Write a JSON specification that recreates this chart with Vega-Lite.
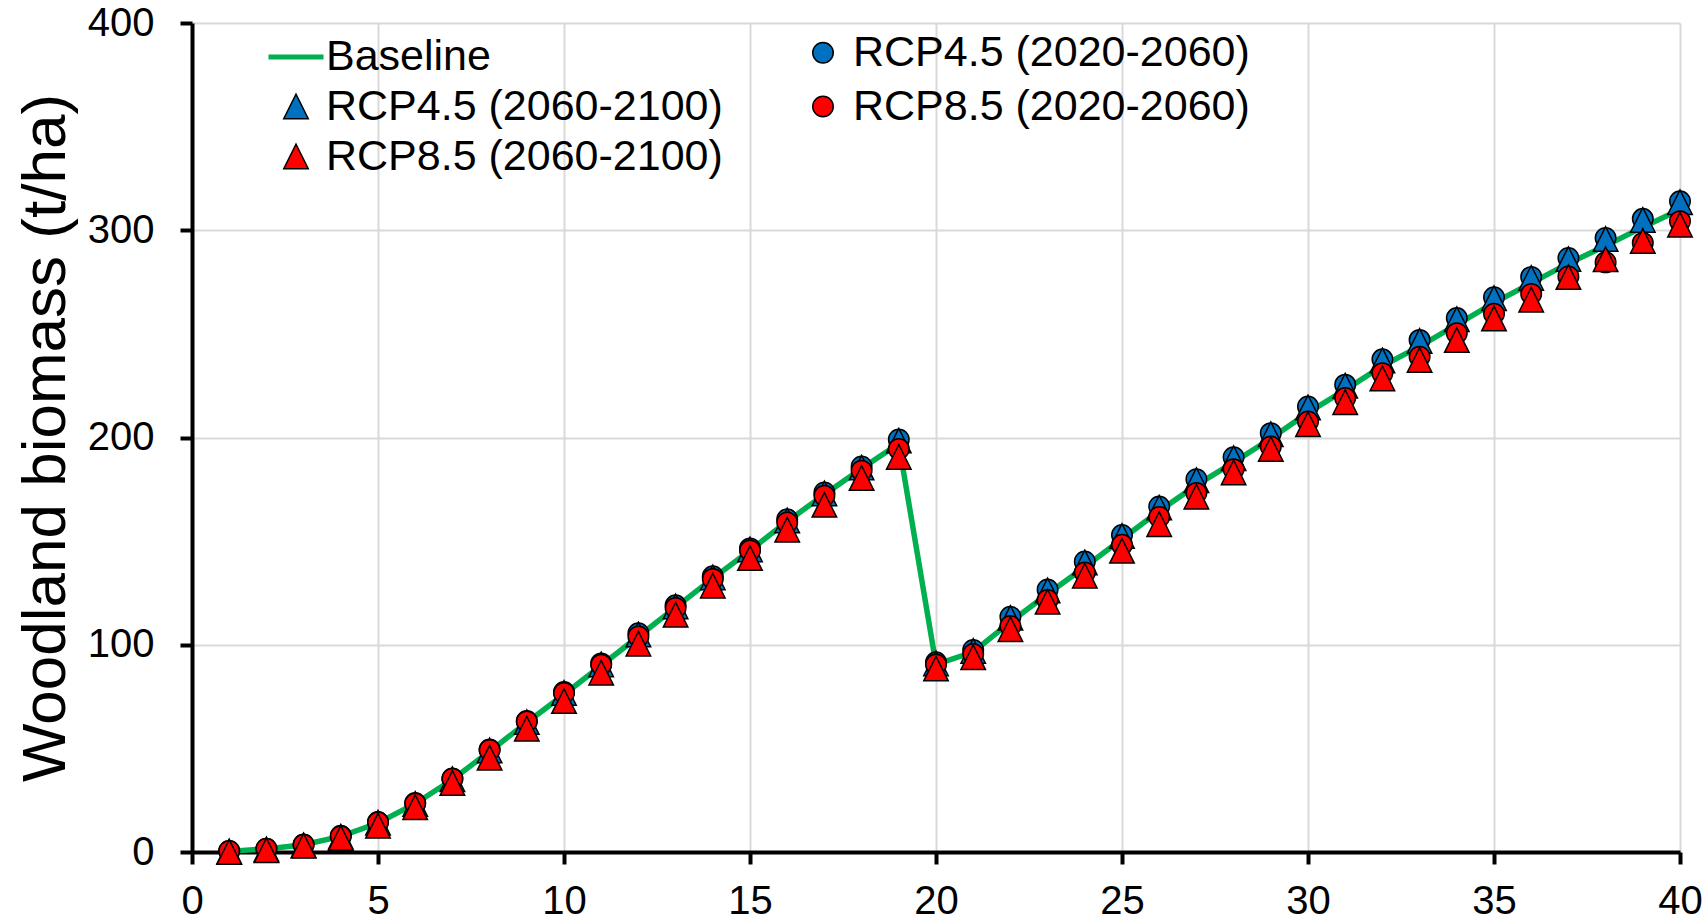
{
  "$schema": "https://vega.github.io/schema/vega-lite/v6.json",
  "width": 1488,
  "height": 829,
  "autosize": {"type": "none"},
  "padding": {"left": 192, "top": 23, "right": 25, "bottom": 71},
  "config": {
    "font": "Liberation Sans",
    "view": {"stroke": null},
    "axis": {
      "grid": true,
      "gridColor": "#D9D9D9",
      "gridWidth": 2,
      "domainColor": "black",
      "domainWidth": 4,
      "tickColor": "black",
      "tickWidth": 4,
      "tickSize": 12,
      "labelFontSize": 40,
      "labelColor": "black",
      "labelFlush": false,
      "labelOverlap": false
    }
  },
  "data": {
    "values": [
      {"series": "Baseline", "year": 1, "biomass": 0.3}, {"series": "Baseline", "year": 2, "biomass": 1.5}, {"series": "Baseline", "year": 3, "biomass": 3.5}, {"series": "Baseline", "year": 4, "biomass": 7.5}, {"series": "Baseline", "year": 5, "biomass": 14}, {"series": "Baseline", "year": 6, "biomass": 23.3}, {"series": "Baseline", "year": 7, "biomass": 35}, {"series": "Baseline", "year": 8, "biomass": 48.5}, {"series": "Baseline", "year": 9, "biomass": 62.5}, {"series": "Baseline", "year": 10, "biomass": 76},
      {"series": "Baseline", "year": 11, "biomass": 90}, {"series": "Baseline", "year": 12, "biomass": 104}, {"series": "Baseline", "year": 13, "biomass": 118}, {"series": "Baseline", "year": 14, "biomass": 132}, {"series": "Baseline", "year": 15, "biomass": 145.5}, {"series": "Baseline", "year": 16, "biomass": 159.5}, {"series": "Baseline", "year": 17, "biomass": 172.5}, {"series": "Baseline", "year": 18, "biomass": 185}, {"series": "Baseline", "year": 19, "biomass": 197}, {"series": "Baseline", "year": 20, "biomass": 90.5},
      {"series": "Baseline", "year": 21, "biomass": 96.5}, {"series": "Baseline", "year": 22, "biomass": 111}, {"series": "Baseline", "year": 23, "biomass": 124.5}, {"series": "Baseline", "year": 24, "biomass": 137.5}, {"series": "Baseline", "year": 25, "biomass": 151}, {"series": "Baseline", "year": 26, "biomass": 164.5}, {"series": "Baseline", "year": 27, "biomass": 177}, {"series": "Baseline", "year": 28, "biomass": 188}, {"series": "Baseline", "year": 29, "biomass": 199.5}, {"series": "Baseline", "year": 30, "biomass": 212},
      {"series": "Baseline", "year": 31, "biomass": 223}, {"series": "Baseline", "year": 32, "biomass": 234.5}, {"series": "Baseline", "year": 33, "biomass": 244}, {"series": "Baseline", "year": 34, "biomass": 254.5}, {"series": "Baseline", "year": 35, "biomass": 265}, {"series": "Baseline", "year": 36, "biomass": 274.5}, {"series": "Baseline", "year": 37, "biomass": 284}, {"series": "Baseline", "year": 38, "biomass": 292.5}, {"series": "Baseline", "year": 39, "biomass": 301.5}, {"series": "Baseline", "year": 40, "biomass": 310},

      {"series": "RCP4.5 (2020-2060)", "year": 1, "biomass": 0.5}, {"series": "RCP4.5 (2020-2060)", "year": 2, "biomass": 1.6}, {"series": "RCP4.5 (2020-2060)", "year": 3, "biomass": 3.6}, {"series": "RCP4.5 (2020-2060)", "year": 4, "biomass": 7.8}, {"series": "RCP4.5 (2020-2060)", "year": 5, "biomass": 14.5}, {"series": "RCP4.5 (2020-2060)", "year": 6, "biomass": 23.6}, {"series": "RCP4.5 (2020-2060)", "year": 7, "biomass": 35.5}, {"series": "RCP4.5 (2020-2060)", "year": 8, "biomass": 49.5}, {"series": "RCP4.5 (2020-2060)", "year": 9, "biomass": 63.2}, {"series": "RCP4.5 (2020-2060)", "year": 10, "biomass": 77.2},
      {"series": "RCP4.5 (2020-2060)", "year": 11, "biomass": 91}, {"series": "RCP4.5 (2020-2060)", "year": 12, "biomass": 105.5}, {"series": "RCP4.5 (2020-2060)", "year": 13, "biomass": 119}, {"series": "RCP4.5 (2020-2060)", "year": 14, "biomass": 133}, {"series": "RCP4.5 (2020-2060)", "year": 15, "biomass": 146.5}, {"series": "RCP4.5 (2020-2060)", "year": 16, "biomass": 160.5}, {"series": "RCP4.5 (2020-2060)", "year": 17, "biomass": 173.5}, {"series": "RCP4.5 (2020-2060)", "year": 18, "biomass": 186}, {"series": "RCP4.5 (2020-2060)", "year": 19, "biomass": 199}, {"series": "RCP4.5 (2020-2060)", "year": 20, "biomass": 91.5},
      {"series": "RCP4.5 (2020-2060)", "year": 21, "biomass": 97.5}, {"series": "RCP4.5 (2020-2060)", "year": 22, "biomass": 113.5}, {"series": "RCP4.5 (2020-2060)", "year": 23, "biomass": 126.7}, {"series": "RCP4.5 (2020-2060)", "year": 24, "biomass": 140.2}, {"series": "RCP4.5 (2020-2060)", "year": 25, "biomass": 153}, {"series": "RCP4.5 (2020-2060)", "year": 26, "biomass": 166.7}, {"series": "RCP4.5 (2020-2060)", "year": 27, "biomass": 179.9}, {"series": "RCP4.5 (2020-2060)", "year": 28, "biomass": 190.5}, {"series": "RCP4.5 (2020-2060)", "year": 29, "biomass": 202.1}, {"series": "RCP4.5 (2020-2060)", "year": 30, "biomass": 215},
      {"series": "RCP4.5 (2020-2060)", "year": 31, "biomass": 225.5}, {"series": "RCP4.5 (2020-2060)", "year": 32, "biomass": 237.7}, {"series": "RCP4.5 (2020-2060)", "year": 33, "biomass": 247.1}, {"series": "RCP4.5 (2020-2060)", "year": 34, "biomass": 257.6}, {"series": "RCP4.5 (2020-2060)", "year": 35, "biomass": 267.7}, {"series": "RCP4.5 (2020-2060)", "year": 36, "biomass": 277.5}, {"series": "RCP4.5 (2020-2060)", "year": 37, "biomass": 286.6}, {"series": "RCP4.5 (2020-2060)", "year": 38, "biomass": 296.3}, {"series": "RCP4.5 (2020-2060)", "year": 39, "biomass": 305.5}, {"series": "RCP4.5 (2020-2060)", "year": 40, "biomass": 314},

      {"series": "RCP4.5 (2060-2100)", "year": 1, "biomass": 0.3}, {"series": "RCP4.5 (2060-2100)", "year": 2, "biomass": 1.3}, {"series": "RCP4.5 (2060-2100)", "year": 3, "biomass": 3.2}, {"series": "RCP4.5 (2060-2100)", "year": 4, "biomass": 7.4}, {"series": "RCP4.5 (2060-2100)", "year": 5, "biomass": 14.1}, {"series": "RCP4.5 (2060-2100)", "year": 6, "biomass": 23.2}, {"series": "RCP4.5 (2060-2100)", "year": 7, "biomass": 35.1}, {"series": "RCP4.5 (2060-2100)", "year": 8, "biomass": 49}, {"series": "RCP4.5 (2060-2100)", "year": 9, "biomass": 62.7}, {"series": "RCP4.5 (2060-2100)", "year": 10, "biomass": 76.7},
      {"series": "RCP4.5 (2060-2100)", "year": 11, "biomass": 90.5}, {"series": "RCP4.5 (2060-2100)", "year": 12, "biomass": 105}, {"series": "RCP4.5 (2060-2100)", "year": 13, "biomass": 118.5}, {"series": "RCP4.5 (2060-2100)", "year": 14, "biomass": 132.5}, {"series": "RCP4.5 (2060-2100)", "year": 15, "biomass": 146}, {"series": "RCP4.5 (2060-2100)", "year": 16, "biomass": 160}, {"series": "RCP4.5 (2060-2100)", "year": 17, "biomass": 173}, {"series": "RCP4.5 (2060-2100)", "year": 18, "biomass": 185.5}, {"series": "RCP4.5 (2060-2100)", "year": 19, "biomass": 198.5}, {"series": "RCP4.5 (2060-2100)", "year": 20, "biomass": 91},
      {"series": "RCP4.5 (2060-2100)", "year": 21, "biomass": 97}, {"series": "RCP4.5 (2060-2100)", "year": 22, "biomass": 113}, {"series": "RCP4.5 (2060-2100)", "year": 23, "biomass": 126.2}, {"series": "RCP4.5 (2060-2100)", "year": 24, "biomass": 139.7}, {"series": "RCP4.5 (2060-2100)", "year": 25, "biomass": 152.5}, {"series": "RCP4.5 (2060-2100)", "year": 26, "biomass": 166.2}, {"series": "RCP4.5 (2060-2100)", "year": 27, "biomass": 179.4}, {"series": "RCP4.5 (2060-2100)", "year": 28, "biomass": 190}, {"series": "RCP4.5 (2060-2100)", "year": 29, "biomass": 201.6}, {"series": "RCP4.5 (2060-2100)", "year": 30, "biomass": 214.5},
      {"series": "RCP4.5 (2060-2100)", "year": 31, "biomass": 225}, {"series": "RCP4.5 (2060-2100)", "year": 32, "biomass": 237.2}, {"series": "RCP4.5 (2060-2100)", "year": 33, "biomass": 246.6}, {"series": "RCP4.5 (2060-2100)", "year": 34, "biomass": 257.1}, {"series": "RCP4.5 (2060-2100)", "year": 35, "biomass": 267.2}, {"series": "RCP4.5 (2060-2100)", "year": 36, "biomass": 277}, {"series": "RCP4.5 (2060-2100)", "year": 37, "biomass": 286.1}, {"series": "RCP4.5 (2060-2100)", "year": 38, "biomass": 295.8}, {"series": "RCP4.5 (2060-2100)", "year": 39, "biomass": 305}, {"series": "RCP4.5 (2060-2100)", "year": 40, "biomass": 313.5},

      {"series": "RCP8.5 (2020-2060)", "year": 1, "biomass": 0.5}, {"series": "RCP8.5 (2020-2060)", "year": 2, "biomass": 1.6}, {"series": "RCP8.5 (2020-2060)", "year": 3, "biomass": 3.5}, {"series": "RCP8.5 (2020-2060)", "year": 4, "biomass": 7.6}, {"series": "RCP8.5 (2020-2060)", "year": 5, "biomass": 14.3}, {"series": "RCP8.5 (2020-2060)", "year": 6, "biomass": 23.4}, {"series": "RCP8.5 (2020-2060)", "year": 7, "biomass": 35.3}, {"series": "RCP8.5 (2020-2060)", "year": 8, "biomass": 49.2}, {"series": "RCP8.5 (2020-2060)", "year": 9, "biomass": 63}, {"series": "RCP8.5 (2020-2060)", "year": 10, "biomass": 76.7},
      {"series": "RCP8.5 (2020-2060)", "year": 11, "biomass": 90.4}, {"series": "RCP8.5 (2020-2060)", "year": 12, "biomass": 104}, {"series": "RCP8.5 (2020-2060)", "year": 13, "biomass": 117.7}, {"series": "RCP8.5 (2020-2060)", "year": 14, "biomass": 131.7}, {"series": "RCP8.5 (2020-2060)", "year": 15, "biomass": 145.5}, {"series": "RCP8.5 (2020-2060)", "year": 16, "biomass": 159}, {"series": "RCP8.5 (2020-2060)", "year": 17, "biomass": 171.9}, {"series": "RCP8.5 (2020-2060)", "year": 18, "biomass": 184}, {"series": "RCP8.5 (2020-2060)", "year": 19, "biomass": 194.5}, {"series": "RCP8.5 (2020-2060)", "year": 20, "biomass": 90.5},
      {"series": "RCP8.5 (2020-2060)", "year": 21, "biomass": 95.5}, {"series": "RCP8.5 (2020-2060)", "year": 22, "biomass": 109}, {"series": "RCP8.5 (2020-2060)", "year": 23, "biomass": 121.6}, {"series": "RCP8.5 (2020-2060)", "year": 24, "biomass": 134.9}, {"series": "RCP8.5 (2020-2060)", "year": 25, "biomass": 148.2}, {"series": "RCP8.5 (2020-2060)", "year": 26, "biomass": 161.6}, {"series": "RCP8.5 (2020-2060)", "year": 27, "biomass": 173.2}, {"series": "RCP8.5 (2020-2060)", "year": 28, "biomass": 184.7}, {"series": "RCP8.5 (2020-2060)", "year": 29, "biomass": 195.7}, {"series": "RCP8.5 (2020-2060)", "year": 30, "biomass": 207.7},
      {"series": "RCP8.5 (2020-2060)", "year": 31, "biomass": 219}, {"series": "RCP8.5 (2020-2060)", "year": 32, "biomass": 231}, {"series": "RCP8.5 (2020-2060)", "year": 33, "biomass": 239}, {"series": "RCP8.5 (2020-2060)", "year": 34, "biomass": 250.3}, {"series": "RCP8.5 (2020-2060)", "year": 35, "biomass": 259.7}, {"series": "RCP8.5 (2020-2060)", "year": 36, "biomass": 269.3}, {"series": "RCP8.5 (2020-2060)", "year": 37, "biomass": 277.7}, {"series": "RCP8.5 (2020-2060)", "year": 38, "biomass": 284.5}, {"series": "RCP8.5 (2020-2060)", "year": 39, "biomass": 293.9}, {"series": "RCP8.5 (2020-2060)", "year": 40, "biomass": 304.4},

      {"series": "RCP8.5 (2060-2100)", "year": 1, "biomass": 0}, {"series": "RCP8.5 (2060-2100)", "year": 2, "biomass": 0.8}, {"series": "RCP8.5 (2060-2100)", "year": 3, "biomass": 3}, {"series": "RCP8.5 (2060-2100)", "year": 4, "biomass": 6.8}, {"series": "RCP8.5 (2060-2100)", "year": 5, "biomass": 12.7}, {"series": "RCP8.5 (2060-2100)", "year": 6, "biomass": 21.6}, {"series": "RCP8.5 (2060-2100)", "year": 7, "biomass": 33.3}, {"series": "RCP8.5 (2060-2100)", "year": 8, "biomass": 45.5}, {"series": "RCP8.5 (2060-2100)", "year": 9, "biomass": 59.5}, {"series": "RCP8.5 (2060-2100)", "year": 10, "biomass": 72.8},
      {"series": "RCP8.5 (2060-2100)", "year": 11, "biomass": 86.5}, {"series": "RCP8.5 (2060-2100)", "year": 12, "biomass": 100.5}, {"series": "RCP8.5 (2060-2100)", "year": 13, "biomass": 114.5}, {"series": "RCP8.5 (2060-2100)", "year": 14, "biomass": 128.5}, {"series": "RCP8.5 (2060-2100)", "year": 15, "biomass": 141.8}, {"series": "RCP8.5 (2060-2100)", "year": 16, "biomass": 155.5}, {"series": "RCP8.5 (2060-2100)", "year": 17, "biomass": 167.5}, {"series": "RCP8.5 (2060-2100)", "year": 18, "biomass": 180.5}, {"series": "RCP8.5 (2060-2100)", "year": 19, "biomass": 190.6}, {"series": "RCP8.5 (2060-2100)", "year": 20, "biomass": 88.5},
      {"series": "RCP8.5 (2060-2100)", "year": 21, "biomass": 94}, {"series": "RCP8.5 (2060-2100)", "year": 22, "biomass": 107.5}, {"series": "RCP8.5 (2060-2100)", "year": 23, "biomass": 120.8}, {"series": "RCP8.5 (2060-2100)", "year": 24, "biomass": 133.3}, {"series": "RCP8.5 (2060-2100)", "year": 25, "biomass": 145.3}, {"series": "RCP8.5 (2060-2100)", "year": 26, "biomass": 158.2}, {"series": "RCP8.5 (2060-2100)", "year": 27, "biomass": 171.4}, {"series": "RCP8.5 (2060-2100)", "year": 28, "biomass": 183.1}, {"series": "RCP8.5 (2060-2100)", "year": 29, "biomass": 194.5}, {"series": "RCP8.5 (2060-2100)", "year": 30, "biomass": 206.4},
      {"series": "RCP8.5 (2060-2100)", "year": 31, "biomass": 217}, {"series": "RCP8.5 (2060-2100)", "year": 32, "biomass": 228.5}, {"series": "RCP8.5 (2060-2100)", "year": 33, "biomass": 237.4}, {"series": "RCP8.5 (2060-2100)", "year": 34, "biomass": 247}, {"series": "RCP8.5 (2060-2100)", "year": 35, "biomass": 257.4}, {"series": "RCP8.5 (2060-2100)", "year": 36, "biomass": 266.5}, {"series": "RCP8.5 (2060-2100)", "year": 37, "biomass": 277.4}, {"series": "RCP8.5 (2060-2100)", "year": 38, "biomass": 286}, {"series": "RCP8.5 (2060-2100)", "year": 39, "biomass": 294.8}, {"series": "RCP8.5 (2060-2100)", "year": 40, "biomass": 302.7}
    ]
  },
  "encoding": {
    "x": {
      "field": "year",
      "type": "quantitative",
      "scale": {"domain": [0, 40], "nice": false, "zero": false},
      "axis": {"values": [0, 5, 10, 15, 20, 25, 30, 35, 40], "title": null, "labelPadding": 17}
    },
    "y": {
      "field": "biomass",
      "type": "quantitative",
      "scale": {"domain": [0, 400], "nice": false},
      "axis": {
        "values": [0, 100, 200, 300, 400],
        "title": "Woodland biomass (t/ha)",
        "titleFontSize": 62,
        "titleFontWeight": "normal",
        "titleColor": "black",
        "titlePadding": 10,
        "labelPadding": 26
      }
    }
  },
  "layer": [
    {
      "transform": [{"filter": "datum.series === 'Baseline'"}],
      "mark": {"type": "line", "color": "#00B050", "strokeWidth": 5.5},
      "encoding": {}
    },
    {
      "transform": [{"filter": "datum.series !== 'Baseline'"}],
      "mark": {"type": "point", "filled": true, "opacity": 1},
      "encoding": {
        "color": {
          "field": "series",
          "type": "nominal",
          "scale": {
            "domain": ["Baseline", "RCP4.5 (2060-2100)", "RCP8.5 (2060-2100)", "RCP4.5 (2020-2060)", "RCP8.5 (2020-2060)"],
            "range": ["#00B050", "#0070C0", "#FF0000", "#0070C0", "#FF0000"]
          },
          "legend": {
            "orient": "none",
            "legendX": 74,
            "legendY": 4,
            "columns": 2,
            "columnPadding": 70,
            "rowPadding": 6,
            "padding": 0,
            "title": null,
            "labelFontSize": 43,
            "labelColor": "black",
            "labelLimit": 0,
            "labelOffset": 0,
            "symbolOffset": 0,
            "symbolOpacity": 1
          }
        },
        "shape": {
          "field": "series",
          "type": "nominal",
          "scale": {
            "domain": ["Baseline", "RCP4.5 (2060-2100)", "RCP8.5 (2060-2100)", "RCP4.5 (2020-2060)", "RCP8.5 (2020-2060)"],
            "range": ["stroke", "M-1,1L1,1L0,-1Z", "M-1,1L1,1L0,-1Z", "circle", "circle"]
          }
        },
        "size": {
          "field": "series",
          "type": "nominal",
          "scale": {
            "type": "ordinal",
            "domain": ["Baseline", "RCP4.5 (2060-2100)", "RCP8.5 (2060-2100)", "RCP4.5 (2020-2060)", "RCP8.5 (2020-2060)"],
            "range": [3025, 600, 600, 420, 420]
          }
        },
        "stroke": {
          "field": "series",
          "type": "nominal",
          "scale": {
            "domain": ["Baseline", "RCP4.5 (2060-2100)", "RCP8.5 (2060-2100)", "RCP4.5 (2020-2060)", "RCP8.5 (2020-2060)"],
            "range": ["#00B050", "black", "black", "black", "black"]
          }
        },
        "strokeWidth": {
          "field": "series",
          "type": "nominal",
          "scale": {
            "type": "ordinal",
            "domain": ["Baseline", "RCP4.5 (2060-2100)", "RCP8.5 (2060-2100)", "RCP4.5 (2020-2060)", "RCP8.5 (2020-2060)"],
            "range": [5, 1.5, 1.5, 1.5, 1.5]
          }
        }
      }
    }
  ]
}
